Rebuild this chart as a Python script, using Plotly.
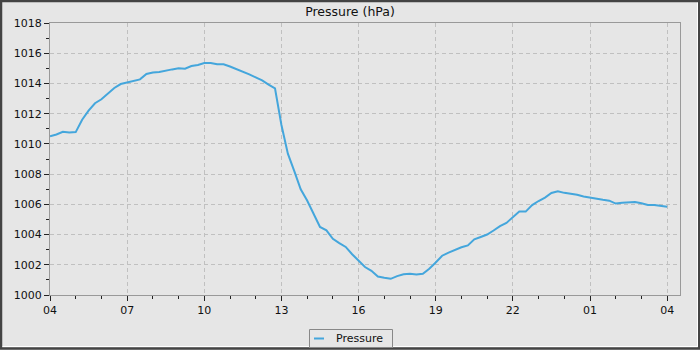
import pandas as pd
import plotly.graph_objects as go

# Station pressure readings, one every 15 minutes from 04:00 to 04:00 next day
start_time = "2024-05-14 04:00"
pressure_hpa = [
    1010.50, 1010.62, 1010.80, 1010.75, 1010.78, 1011.60, 1012.20, 1012.69,
    1012.95, 1013.33, 1013.70, 1013.96, 1014.08, 1014.15, 1014.27, 1014.63,
    1014.73, 1014.76, 1014.86, 1014.93, 1015.00, 1014.98, 1015.15, 1015.22,
    1015.35, 1015.35, 1015.27, 1015.27, 1015.12, 1014.95, 1014.80, 1014.60,
    1014.40, 1014.20, 1013.92, 1013.68, 1011.25, 1009.35, 1008.20, 1007.00,
    1006.25, 1005.35, 1004.50, 1004.28, 1003.72, 1003.43, 1003.18, 1002.70,
    1002.27, 1001.85, 1001.60, 1001.22, 1001.14, 1001.07, 1001.25, 1001.37,
    1001.40, 1001.35, 1001.40, 1001.74, 1002.15, 1002.60, 1002.80, 1002.98,
    1003.16, 1003.28, 1003.68, 1003.84, 1004.00, 1004.27, 1004.56, 1004.77,
    1005.15, 1005.52, 1005.52, 1005.95, 1006.22, 1006.45, 1006.75, 1006.87,
    1006.76, 1006.71, 1006.63, 1006.52, 1006.43, 1006.38, 1006.30, 1006.24,
    1006.05, 1006.10, 1006.15, 1006.15, 1006.07, 1005.96, 1005.96, 1005.90,
    1005.84,
]
times = pd.date_range(start_time, periods=len(pressure_hpa), freq="15min")

series_name = "Pressure"
chart_title = "Pressure (hPa)"
y_range = [1000, 1018]
x_range = ["2024-05-14 04:00", "2024-05-15 04:30"]

W, H = 700, 350
ML, MR, MT, MB = 50, 20, 23, 55
PW, PH = W - ML - MR, H - MT - MB

LINE_COLOR = "#44a6dc"
BG = "#e6e6e6"
FONT = "DejaVu Sans"


def px_x(p):
    return (p - ML) / PW


def px_y(p):
    return (H - MB - p) / PH


fig = go.Figure()
fig.add_trace(go.Scatter(
    x=times, y=pressure_hpa, mode="lines", name=series_name,
    line=dict(color=LINE_COLOR, width=2), showlegend=False,
))

axis_common = dict(
    showline=True, linecolor="#999999", linewidth=1, mirror=True,
    ticks="outside", ticklen=5, tickwidth=1, tickcolor="#222222",
    showgrid=True, gridcolor="#c0c0c0", gridwidth=1, griddash="4px,3px",
    tickfont=dict(family=FONT, size=11, color="#111111"),
    zeroline=False,
)

fig.update_xaxes(
    type="date", range=x_range, tickformat="%H",
    tick0="2024-05-14 04:00", dtick=3 * 3600000,
    minor=dict(dtick=3600000, ticks="outside", ticklen=3, tickcolor="#222222", showgrid=False),
    **axis_common,
)
fig.update_yaxes(
    range=y_range, dtick=2, tick0=1000,
    minor=dict(dtick=1, ticks="outside", ticklen=3, tickcolor="#222222", showgrid=False),
    **axis_common,
)

shapes = [
    # outer frame
    dict(type="rect", xref="paper", yref="paper", layer="above",
         x0=px_x(1), x1=px_x(699), y0=px_y(1), y1=px_y(348.5),
         line=dict(color="#444444", width=2.5)),
    dict(type="line", xref="paper", yref="paper", layer="above",
         x0=px_x(697.5), x1=px_x(697.5), y0=px_y(2.5), y1=px_y(347),
         line=dict(color="#ffffff", width=1)),
    dict(type="line", xref="paper", yref="paper", layer="above",
         x0=px_x(2.5), x1=px_x(697.5), y0=px_y(346.5), y1=px_y(346.5),
         line=dict(color="#ffffff", width=1)),
    # legend box and swatch
    dict(type="rect", xref="paper", yref="paper", layer="above",
         x0=px_x(309.5), x1=px_x(392.5), y0=px_y(329.5), y1=px_y(347.5),
         line=dict(color="#888888", width=1), fillcolor=BG),
    dict(type="line", xref="paper", yref="paper", layer="above",
         x0=px_x(314), x1=px_x(324), y0=px_y(338.5), y1=px_y(338.5),
         line=dict(color=LINE_COLOR, width=2)),
]

annotations = [
    dict(text=series_name, xref="paper", yref="paper",
         x=px_x(334), y=px_y(338), xanchor="left", yanchor="middle",
         showarrow=False, font=dict(family=FONT, size=11, color="#111111")),
]

fig.update_layout(
    width=W, height=H,
    margin=dict(l=ML, r=MR, t=MT, b=MB, pad=0),
    paper_bgcolor=BG, plot_bgcolor="rgba(0,0,0,0)",
    title=dict(text=chart_title, x=0.5, xref="container", xanchor="center",
               y=1 - 11.5 / H, yref="container", yanchor="middle",
               font=dict(family=FONT, size=12.5, color="#111111")),
    shapes=shapes, annotations=annotations,
    showlegend=False,
)

fig.write_html("out.html")
